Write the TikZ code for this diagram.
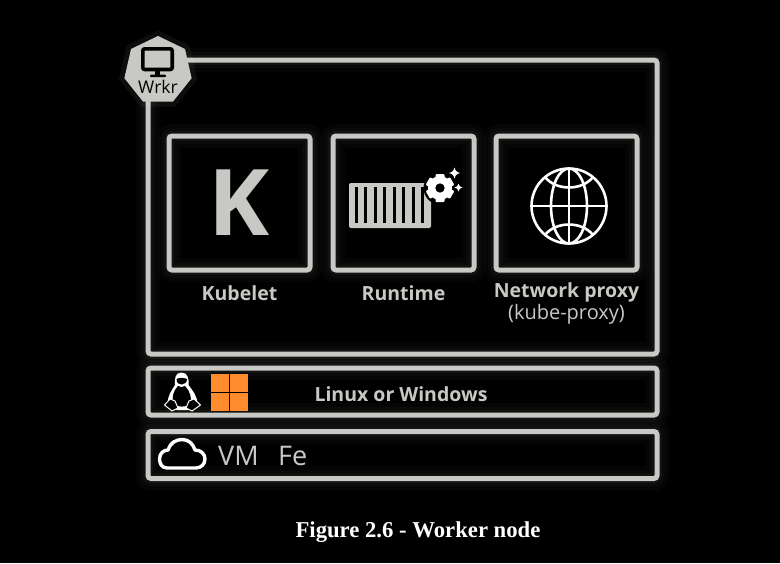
\documentclass[tikz,border=0pt]{standalone}
\usepackage{fontspec}
\setmainfont{Open Sans}
\newfontfamily\capfont{Liberation Serif}
\usetikzlibrary{positioning,shapes.geometric,calc}
\definecolor{linegray}{HTML}{C8C8C4}
\definecolor{wingray}{HTML}{FF8C2C}
\begin{document}
\begin{tikzpicture}[x=1pt,y=-1pt]
  \tikzstyle{glowbox}=[draw=linegray, line width=5pt, rounded corners=3pt, inner sep=0pt,
    preaction={draw=white, line width=24pt, opacity=0.018},
    preaction={draw=white, line width=16pt, opacity=0.025},
    preaction={draw=white, line width=10pt, opacity=0.035}]
  \tikzstyle{compbox}=[glowbox, minimum width=141pt, minimum height=134pt]
  \tikzstyle{barbox}=[glowbox, minimum width=509pt, minimum height=47pt]
  \tikzstyle{boldlabel}=[text=linegray, font=\fontsize{19.5}{22}\selectfont\bfseries, inner sep=0pt]
  \tikzstyle{thinlabel}=[text=linegray, font=\fontsize{20}{22}\selectfont, inner sep=0pt]
  \tikzstyle{biglabel}=[text=linegray, font=\fontsize{27}{30}\selectfont, inner sep=0pt, anchor=west]
  \tikzstyle{whiteline}=[draw=white, line width=2.6pt]
  \fill[black] (0,0) rectangle (780,563);
  \useasboundingbox (0,0) rectangle (780,563);
  % boxes
  \node[glowbox, minimum width=509pt, minimum height=294pt] (worker) at (402.5,207) {};
  \node[compbox, text=linegray, font=\fontsize{92}{92}\selectfont\bfseries] (kubelet) at (239.5,203) {K};
  \node[compbox] (runtime) at (403.5,203) {};
  \node[compbox] (proxy) at (566.5,203) {};
  \node[barbox] (osbar) at (402.5,391.5) {};
  \node[barbox] (vmbar) at (402.5,455) {};
  % labels
  \node[boldlabel, below=13pt of kubelet.south] (kubeletlabel) {Kubelet};
  \node[boldlabel, below=13pt of runtime.south] (runtimelabel) {Runtime};
  \node[boldlabel, below=10pt of proxy.south] (proxylabel) {Network proxy};
  \node[thinlabel, below=2pt of proxylabel] (kubeproxylabel) {(kube-proxy)};
  \node[boldlabel] (oslabel) at (401,394) {Linux or Windows};
  \node[biglabel] (vmlabel) at (218,456) {VM};
  \node[biglabel] (felabel) at (278,456) {Fe};
  \node[text=white, font=\capfont\fontsize{22.7}{24}\selectfont\bfseries, inner sep=0pt] (caption) at (418,532) {Figure 2.6 - Worker node};
  % badge
  \node[regular polygon, regular polygon sides=7, fill=linegray, minimum size=69pt, inner sep=0pt,
    preaction={draw=white, line width=10pt, opacity=0.05}] (badge) at (158,70.5) {};
  \node[text=black, font=\fontsize{17.5}{20}\selectfont, inner sep=0pt] (badgelabel) at (158,87) {Wrkr};
  \draw[black, line width=3.6pt, rounded corners=2pt] (142.8,48.8) rectangle (172.2,69.5);
  \fill[black] (155,70) rectangle (160,75);
  \fill[black, rounded corners=1pt] (150,74.5) rectangle (166,77);
  % container and gear
  \fill[linegray, rounded corners=2pt] (349,183) rectangle (431,228);
  \foreach \i in {0,...,7}
    \fill[black] (355+\i*9.45,187) rectangle ++(3,36);
  \fill[black] (440,188) circle (16.5);
  \foreach \a in {0,60,...,300}
    \fill[white, rounded corners=1pt, rotate around={\a:(440,188)}] (435.5,174) rectangle (444.5,182);
  \fill[white, even odd rule] (440,188) circle (12) (440,188) circle (4.8);
  \fill[white] (454.5,167.5) .. controls (455.5,171) and (456.5,172) .. (460,173)
    .. controls (456.5,174) and (455.5,175) .. (454.5,178.5)
    .. controls (453.5,175) and (452.5,174) .. (449,173)
    .. controls (452.5,172) and (453.5,171) .. cycle;
  \fill[white] (458.5,183.5) .. controls (459,186) and (460,187) .. (462.5,187.5)
    .. controls (460,188) and (459,189) .. (458.5,191.5)
    .. controls (458,189) and (457,188) .. (454.5,187.5)
    .. controls (457,187) and (458,186) .. cycle;
  % globe
  \draw[whiteline] (569,206) circle (37.5);
  \draw[whiteline] (569,206) ellipse (18 and 37.5);
  \draw[whiteline] (569,168.5) -- (569,243.5) (531.5,206) -- (606.5,206);
  \draw[whiteline] (545,177) .. controls (556,191) and (582,191) .. (593,177);
  \draw[whiteline] (545,235) .. controls (556,221) and (582,221) .. (593,235);
  % tux
  \fill[white] (181.5,372.5) .. controls (175,372.5) and (174.5,379) .. (175,385)
    .. controls (172,390) and (167,396) .. (168,404) -- (177,410) -- (188,410) -- (197,404)
    .. controls (198,396) and (192,390) .. (188.5,385)
    .. controls (189,379) and (188,372.5) .. (181.5,372.5) -- cycle;
  \fill[black] (178,386) .. controls (173,391) and (171.5,398) .. (173.5,404)
    .. controls (178,407.5) and (186,407.5) .. (190.5,404)
    .. controls (192,398) and (190,391) .. (185,386)
    .. controls (183,387.5) and (180,387.5) .. (178,386) -- cycle;
  \fill[black] (176.5,379) .. controls (179,377.5) and (184,377.5) .. (187,379)
    .. controls (187,383) and (184,384.5) .. (181.5,384.5) .. controls (179,384.5) and (176.5,383) .. (176.5,379) -- cycle;
  \draw[white, line width=1pt, fill=black, line join=round] (164.5,405) -- (170,399) -- (175,401) -- (178,408) -- (172,411) -- cycle;
  \draw[white, line width=1pt, fill=black, line join=round] (200.5,405) -- (194,399) -- (189,401) -- (186,408) -- (192,411) -- cycle;
  % windows logo
  \foreach \col/\row in {0/0,1/0,0/1,1/1}
    \fill[wingray] (211+\col*19.2,374+\row*19.2) rectangle ++(17.8,17.8);
  % cloud
  \draw[white, line width=3.4pt, line join=round] (167,468) .. controls (161,468) and (159.5,462) .. (159.5,459)
    .. controls (159.5,453) and (164,450) .. (168,450)
    .. controls (170,443) and (176,439.5) .. (182,439.5)
    .. controls (189,439.5) and (193,444) .. (195,450)
    .. controls (201,450) and (205,454) .. (205,459)
    .. controls (205,464) and (201,468) .. (196,468) -- cycle;
\end{tikzpicture}
\end{document}
